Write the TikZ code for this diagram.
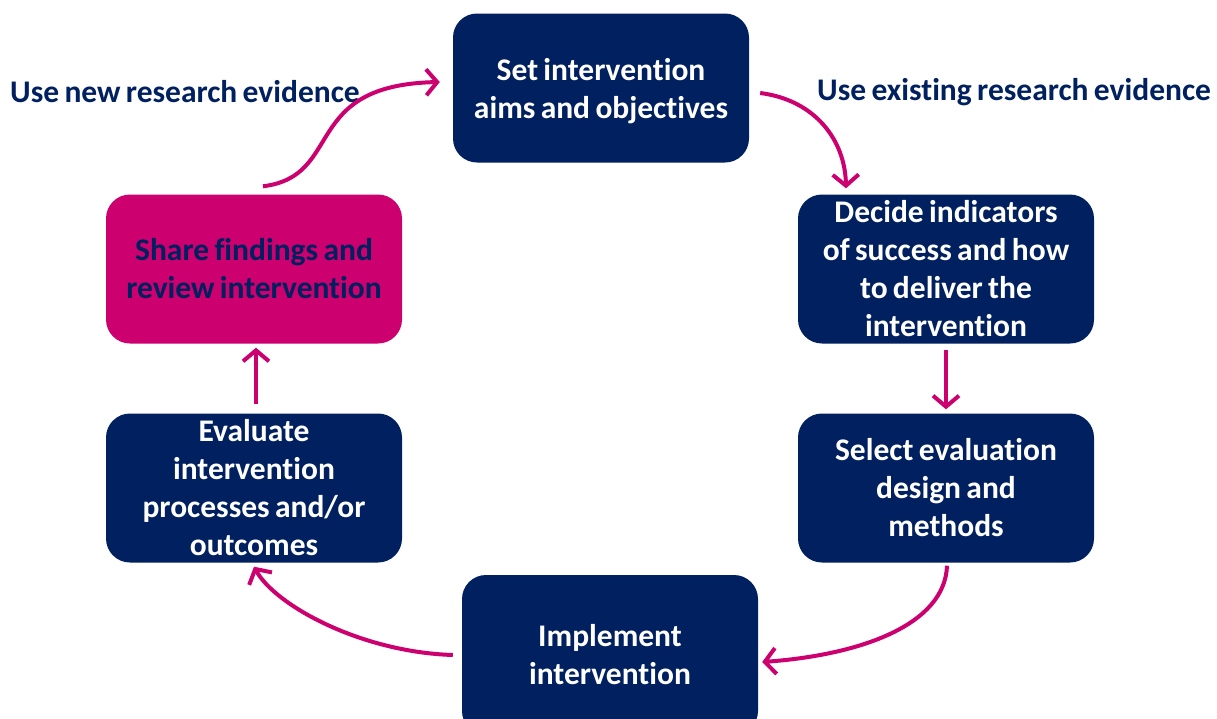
\documentclass[tikz,border=0pt]{standalone}
\usepackage{fontspec}
\setmainfont[Ligatures={NoCommon},WordSpace=0.75]{Carlito}
\usetikzlibrary{arrows.meta,calc}
\definecolor{navy}{RGB}{0,32,96}
\definecolor{mag}{RGB}{204,0,110}
\tikzset{
  boxtext/.style={text=white, font=\bfseries\fontsize{31.5}{38}\selectfont, align=center, inner sep=0pt},
  box/.style={boxtext, draw=none, fill=navy, rounded corners=24pt, minimum width=296pt, minimum height=149pt},
  sharebox/.style={box, fill=mag, text=navy},
  conn/.style={draw=mag, line width=4pt, -{Straight Barb[length=11pt,width=26pt]}},
  lab/.style={text=navy, font=\bfseries\fontsize{31.5}{36}\selectfont, anchor=west, inner sep=0pt}
}
\begin{document}
\begin{tikzpicture}[x=1pt,y=-1pt]
\useasboundingbox (0,0) rectangle (1217,718);
\node[box] (aims) at (601,88) {};
\node[boxtext] (aimstext) at (601,91) {Set intervention\\aims and objectives};
\node[box] (decide) at (946,269) {Decide indicators\\of success and how\\to deliver the\\intervention};
\node[box] (select) at (946,488) {Select evaluation\\design and\\methods};
\node[box, minimum height=160pt] (impl) at (610,655) {Implement\\intervention};
\node[box] (eval) at (254,488) {Evaluate\\intervention\\processes and/or\\outcomes};
\node[sharebox] (share) at (254,269) {Share findings and\\review intervention};
\node[lab] (newev) at (10,92) {Use new research evidence};
\node[lab] (exev) at (817,92) {Use existing research evidence};
\draw[conn] ($(share.north)+(9,-8)$) .. controls (345,176) and (300,85) .. ($(aims.west)+(-13,-6)$);
\draw[conn] ($(aims.east)+(11,5)$) .. controls (815,100) and (845,140) .. ($(decide.north)+(-100,-6)$);
\draw[conn] ($(decide.south)+(0,6)$) -- ($(select.north)+(0,-4)$);
\draw[conn] ($(select.south)+(1,3)$) .. controls (945,625) and (860,655) .. ($(impl.east)+(4,7)$);
\draw[conn] ($(impl.west)+(-9,0)$) .. controls (360,652) and (275,605) .. ($(eval.south)+(0,4)$);
\draw[conn] ($(eval.north)+(2,-9)$) -- ($(share.south)+(2,4)$);
\end{tikzpicture}
\end{document}
